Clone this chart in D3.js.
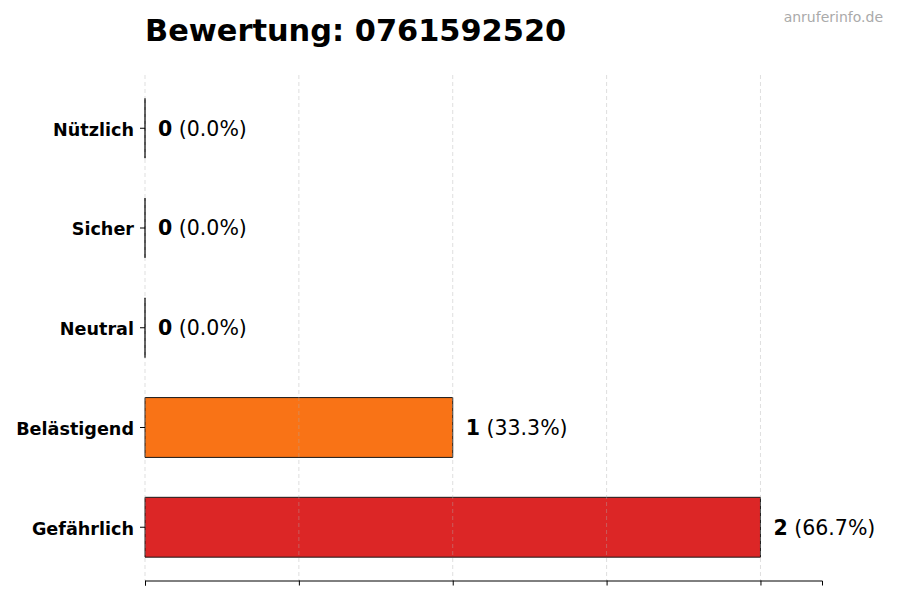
<!DOCTYPE html>
<html>
<head>
<meta charset="utf-8">
<script src="https://cdn.jsdelivr.net/npm/d3@7"></script>
<style>
  body { margin: 0; background: #fff; }
  svg { font-family: "DejaVu Sans", sans-serif; }
</style>
</head>
<body>
<svg id="chart" width="900" height="600"></svg>
<script>
// ratings, top to bottom as in the picture
let categories = ["Nützlich", "Sicher", "Neutral", "Belästigend", "Gefährlich"];
let counts = [0, 0, 0, 1, 2];
let percents = ["0.0%", "0.0%", "0.0%", "33.3%", "66.7%"];
let barColors = ["#22c55e", "#3b82f6", "#9ca3af", "#f97316", "#dc2626"];
let xTicks = [0, 0.5, 1, 1.5, 2];

let svg = d3.select("#chart");
let margin = {top: 75, right: 78, bottom: 19.5, left: 145};
let width = 900, height = 600;

let x = d3.scaleLinear()
          .domain([0, 2.2])
          .range([margin.left, width - margin.right]);

let y = d3.scaleBand()
          .domain(categories)
          .range([margin.top, height - margin.bottom])
          .paddingInner(0.4)
          .paddingOuter(0.234);

// bars as paths so zero values still show their edge
let data = categories.map((c, i) => ({cat: c, value: counts[i], pct: percents[i], color: barColors[i]}));

svg.append("g")
   .selectAll("path")
   .data(data)
   .join("path")
   .attr("d", d => {
     let x0 = x(0), x1 = x(d.value), y0 = y(d.cat), h = y.bandwidth();
     return `M${x0},${y0}H${x1}V${y0 + h}H${x0}Z`;
   })
   .attr("fill", d => d.color)
   .attr("stroke", "#1a1a1a")
   .attr("stroke-width", 1);

// dashed vertical grid, drawn over the bars like the original
svg.append("g")
   .selectAll("line")
   .data(xTicks)
   .join("line")
   .attr("x1", d => x(d)).attr("x2", d => x(d))
   .attr("y1", margin.top).attr("y2", height - margin.bottom)
   .attr("stroke", "#b0b0b0")
   .attr("stroke-opacity", 0.5)
   .attr("stroke-width", 0.8)
   .attr("stroke-dasharray", "4,3");

// value labels
let labels = svg.append("g")
   .selectAll("text")
   .data(data)
   .join("text")
   .attr("x", d => x(d.value) + 13)
   .attr("y", d => y(d.cat) + y.bandwidth() / 2)
   .attr("dy", "0.36em")
   .attr("font-size", 20.5)
   .attr("fill", "#000");
labels.append("tspan").attr("font-weight", "bold").text(d => d.value);
labels.append("tspan").text(d => " (" + d.pct + ")");

// x axis, ticks only
let xAxis = svg.append("g")
   .attr("transform", `translate(0,${height - margin.bottom})`)
   .call(d3.axisBottom(x).tickValues(xTicks).tickFormat("").tickSizeOuter(0).tickSize(5));
xAxis.select(".domain").attr("stroke", "#000").attr("stroke-width", 1);
xAxis.selectAll(".tick line").attr("stroke", "#000");

// y axis, labels without spine
let yAxis = svg.append("g")
   .attr("transform", `translate(${margin.left},0)`)
   .call(d3.axisLeft(y).tickSize(5).tickPadding(6));
yAxis.select(".domain").remove();
yAxis.selectAll(".tick line").attr("stroke", "#000");
yAxis.selectAll(".tick text")
     .attr("font-family", "DejaVu Sans, sans-serif")
     .attr("font-size", 17.6)
     .attr("font-weight", "bold")
     .attr("dy", "0.42em")
     .attr("fill", "#000");

// title
svg.append("text")
   .attr("x", margin.left)
   .attr("y", 41)
   .attr("font-size", 30.4)
   .attr("font-weight", "bold")
   .attr("fill", "#000")
   .text("Bewertung: 0761592520");

// watermark
svg.append("text")
   .attr("x", 883)
   .attr("y", 22)
   .attr("text-anchor", "end")
   .attr("font-size", 14)
   .attr("fill", "#aaaaaa")
   .text("anruferinfo.de");
</script>
</body>
</html>
